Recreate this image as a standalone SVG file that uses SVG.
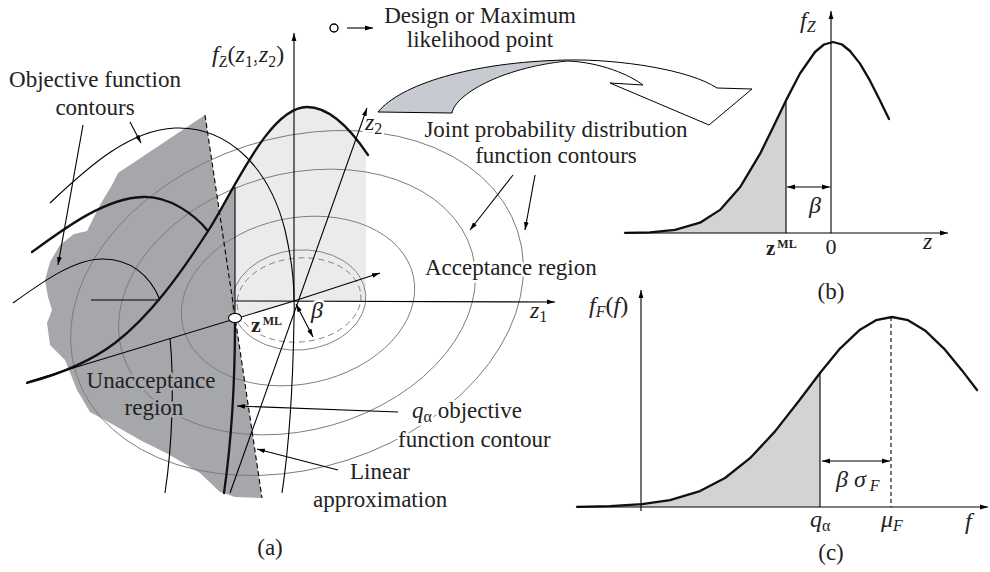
<svg xmlns="http://www.w3.org/2000/svg" width="990" height="572" viewBox="0 0 990 572">
<defs>
<marker id="ah" viewBox="0 0 10 10" refX="10" refY="5" markerWidth="8" markerHeight="8" markerUnits="userSpaceOnUse" orient="auto-start-reverse"><path d="M0,2 L10,5 L0,8 z" fill="#000"/></marker>
<style>
.t{font-family:"Liberation Serif","Times New Roman",serif;font-size:23px;fill:#222}
.m{font-family:"Liberation Serif","Times New Roman",serif;font-size:24px;font-style:italic;fill:#222}
.halo{stroke:#fff;stroke-width:5;paint-order:stroke;stroke-linejoin:round}
.haloD{stroke:#a6a7aa;stroke-width:5;paint-order:stroke;stroke-linejoin:round}
.ln{fill:none;stroke:#000;stroke-width:1.1}
.thk{fill:none;stroke:#111;stroke-width:2.3;stroke-linecap:round;stroke-linejoin:round}
.ell{fill:none;stroke:#7a7a7a;stroke-width:0.9}
.ar{fill:none;stroke:#000;stroke-width:1.1;marker-end:url(#ah)}
.dar{fill:none;stroke:#000;stroke-width:1.1;marker-end:url(#ah);marker-start:url(#ah)}
.sub{font-size:16px}
</style>
</defs>

<g id="panel-a-regions">
<path id="unacceptance-region" d="M205,115 L118,173 L112,185 L100,205 L87,231 L74,234 L60,245 L50,262 L45,280 L48,297 L52,310 L47,323 L50,345 L65,360 L77,390 L90,412 L112,424 L140,440 L168,454 L200,473 L220,492 L235,497 L262,498 L235,318 L235,187 L226,201 L219.5,213 Z" fill="#a6a7aa"/>
<path id="acceptance-shade" d="M235,187 C250,160 270,108 307,107 C330,107 350,128 366,152 L366,301 L294,301 L235,318 Z" fill="#ebebeb"/>
</g>

<g id="pdf-contours">
<ellipse class="ell" cx="299" cy="300" rx="67" ry="50" transform="rotate(-5 299 300)"/>
<ellipse class="ell" cx="299" cy="300" rx="62" ry="42" transform="rotate(-5 299 300)" stroke-dasharray="6 4"/>
<ellipse class="ell" cx="298" cy="301" rx="118" ry="83" transform="rotate(-12 298 301)"/>
<ellipse class="ell" cx="297" cy="302" rx="182" ry="128" transform="rotate(-16 297 302)"/>
<ellipse class="ell" cx="297" cy="303" rx="232" ry="165" transform="rotate(-18 297 303)"/>
</g>

<g id="panel-a-lines">
<line class="ln" x1="235" y1="187" x2="235" y2="318"/>
<path d="M205,115 L262,498" fill="none" stroke="#000" stroke-width="1.1" stroke-dasharray="5 3"/>
<path class="ln" d="M50,203 C90,165 130,130 175,128 C230,126 270,170 285,230 C293,265 295,290 294,320 C293,380 290,440 282,493"/>
<path class="ln" d="M13,303 C45,280 75,259 103,259 C130,259 150,275 160,300"/>
<line class="ln" x1="91" y1="300" x2="160" y2="300"/>
<path class="ln" d="M170,338 C174,380 173,440 165,493"/>
<path class="thk" d="M32,252 C65,228 105,198 143,197 C170,196 195,215 208,231"/>
<path class="thk" d="M27,383 C60,374 90,362 115,343 C150,316 180,275 210,228 C235,188 270,107 307,107 C330,107 350,128 368,155"/>
<path class="thk" d="M235,322 C235,370 233,430 224,493"/>
<line class="ln" x1="27" y1="382" x2="294" y2="301"/>
</g>

<g id="axes-a">
<line class="ar" x1="294" y1="301" x2="294" y2="33"/>
<line class="ar" x1="230" y1="493" x2="367" y2="108"/>
<line class="ar" x1="294" y1="301" x2="380" y2="273"/>
<line class="ar" x1="235" y1="301" x2="555" y2="302"/>
<line class="dar" x1="296" y1="304" x2="313" y2="337"/>
</g>

<g id="zml-point">
<ellipse cx="235" cy="318" rx="6.5" ry="4.5" fill="#fff" stroke="#000" stroke-width="1.1"/>
</g>

<g id="connectors">
<line class="ar" x1="83" y1="125" x2="58" y2="265"/>
<line class="ar" x1="130" y1="122" x2="141" y2="143"/>
<line class="ar" x1="513" y1="175" x2="470" y2="230"/>
<line class="ar" x1="535" y1="175" x2="525" y2="230"/>
<line class="ar" x1="398" y1="412" x2="237" y2="406"/>
<line class="ar" x1="338" y1="470" x2="257" y2="449"/>
<line class="ar" x1="347" y1="28" x2="373" y2="28"/>
</g>

<g id="legend-point">
<circle cx="334" cy="28" r="4" fill="#fff" stroke="#000" stroke-width="1.4"/>
</g>

<g id="ribbon-arrow">
<path d="M378,112 C400,85 470,62 567,60 C500,68 455,95 452,113 Z" fill="#c8cad1"/>
<path d="M378,112 C400,85 470,62 567,60 C620,59 690,70 717,88 L752,89 L709,125 L610,83 L643,85 C630,75 600,62 567,61 C500,68 455,95 452,113 Z" fill="none" stroke="#000" stroke-width="1"/>
</g>

<g id="panel-b">
<path d="M625,232.8 L650,232.3 675,229.9 700,222.7 720,209.9 740,187.3 760,153.9 773,127.6 786,100.4 L786,233 L625,233 Z" fill="#d2d3d5"/>
<line class="ln" x1="786" y1="100" x2="786" y2="233"/>
<polyline class="thk" points="625,232.8 650,232.3 675,229.9 700,222.7 720,209.9 740,187.3 760,153.9 773,127.6 786,100.4 800,73.5 815,52 824,44.5 833,42 842,44.5 850,51 860,63.6 870,80.7 880,100.4 889,119"/>
<line class="ar" x1="625" y1="233" x2="948" y2="233"/>
<line class="ar" x1="831" y1="233" x2="831" y2="11"/>
<line class="dar" x1="787" y1="187" x2="830" y2="187"/>
</g>

<g id="panel-c">
<path d="M577,506.8 L610,506.1 642,504.2 670,500.1 700,491.1 725,478 750,458.2 775,431.4 800,399.5 820,373 L820,507 L577,507 Z" fill="#d2d3d5"/>
<line class="ln" x1="820" y1="373" x2="820" y2="507"/>
<line x1="891" y1="317" x2="891" y2="507" stroke="#000" stroke-width="1.1" stroke-dasharray="4 3"/>
<polyline class="thk" points="577,506.8 610,506.1 642,504.2 670,500.1 700,491.1 725,478 750,458.2 775,431.4 800,399.5 820,373 840,348.6 860,329.7 876,320.2 892,317 908,320.2 925,330.4 945,349.7 962,370.4 977,390"/>
<line class="ar" x1="577" y1="507" x2="988" y2="507"/>
<line class="ar" x1="641" y1="511" x2="641" y2="290"/>
<line class="dar" x1="822" y1="461" x2="890" y2="461"/>
</g>

<g id="labels">
<text class="t halo" x="95" y="87" text-anchor="middle">Objective function</text>
<text class="t halo" x="95" y="115" text-anchor="middle">contours</text>
<text class="t" x="480" y="23" text-anchor="middle">Design or Maximum</text>
<text class="t" x="480" y="47" text-anchor="middle">likelihood point</text>
<text class="t halo" x="556" y="137" text-anchor="middle">Joint probability distribution</text>
<text class="t halo" x="556" y="163" text-anchor="middle">function contours</text>
<text class="t halo" x="425" y="275">Acceptance region</text>
<text class="t haloD" x="151" y="388" text-anchor="middle">Unacceptance</text>
<text class="t haloD" x="154" y="415" text-anchor="middle">region</text>
<text class="t halo" x="412" y="418"><tspan font-style="italic">q</tspan><tspan font-size="16" dy="4">α</tspan><tspan dy="-4"> objective</tspan></text>
<text class="t halo" x="398" y="447">function contour</text>
<text class="t halo" x="350" y="479">Linear</text>
<text class="t halo" x="313" y="507">approximation</text>
<text class="t" x="270" y="555" text-anchor="middle">(a)</text>
<text class="t" x="831" y="299" text-anchor="middle">(b)</text>
<text class="t" x="831" y="560" text-anchor="middle">(c)</text>

<text class="m halo" x="212" y="62" font-size="25">f<tspan class="sub" dy="5" font-size="17">Z</tspan><tspan dy="-5" font-style="normal">(</tspan>z<tspan class="sub" dy="5" font-style="normal" font-size="17">1</tspan><tspan dy="-5" font-style="normal">,</tspan>z<tspan class="sub" dy="5" font-style="normal" font-size="17">2</tspan><tspan dy="-5" font-style="normal">)</tspan></text>
<text class="m halo" x="365" y="130">z<tspan class="sub" dy="4" font-style="normal">2</tspan></text>
<text class="m halo" x="530" y="318">z<tspan class="sub" dy="4" font-style="normal">1</tspan></text>
<text class="m halo" x="311" y="318">β</text>
<text class="halo" x="251" y="332" font-family="Liberation Serif, serif" font-weight="bold" font-size="22" fill="#222">z<tspan font-size="12" dy="-7" dx="2">ML</tspan></text>

<text class="m" x="800" y="28" font-size="22">f<tspan class="sub" dy="4">Z</tspan></text>
<text class="m" x="809" y="213" font-size="22">β</text>
<text x="766" y="255" font-family="Liberation Serif, serif" font-weight="bold" font-size="21" fill="#222">z<tspan font-size="12" dy="-7" dx="2">ML</tspan></text>
<text x="831" y="254" text-anchor="middle" font-family="Liberation Serif, serif" font-size="22" fill="#222">0</text>
<text class="m" x="923" y="249" font-size="22">z</text>

<text class="m" x="589" y="313" font-size="24">f<tspan class="sub" dy="4">F</tspan><tspan dy="-4" font-style="normal">(</tspan>f<tspan font-style="normal">)</tspan></text>
<text class="m" x="836" y="487" font-size="22">β σ<tspan class="sub" dy="4"> F</tspan></text>
<text class="m" x="810" y="527" font-size="22">q<tspan class="sub" dy="4" font-style="normal">α</tspan></text>
<text class="m" x="881" y="527" font-size="22">μ<tspan class="sub" dy="4">F</tspan></text>
<text class="m" x="965" y="529" font-size="22">f</text>
</g>
</svg>
